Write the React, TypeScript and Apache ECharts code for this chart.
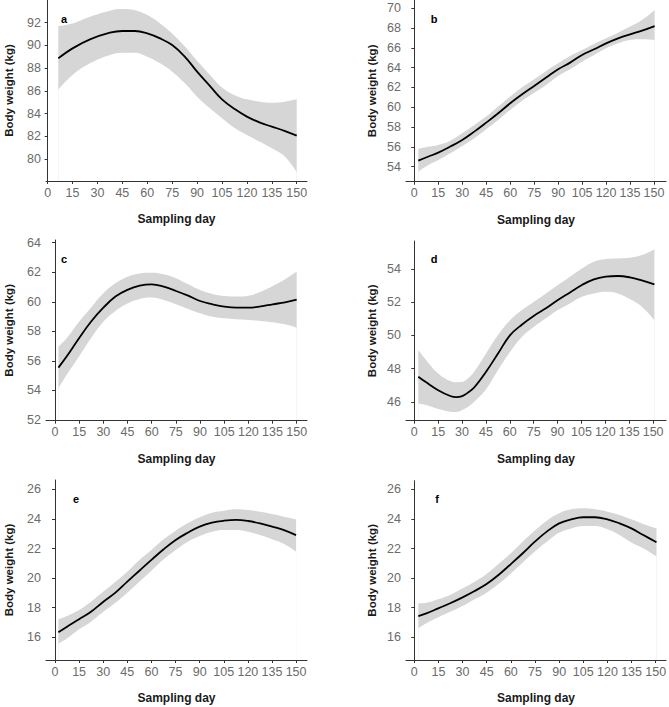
import React, { useEffect, useRef } from "react";
import * as echarts from "echarts";

const xTicks = [0, 15, 30, 45, 60, 75, 90, 105, 120, 135, 150];

// Panel a
const daysA = [6.4, 15, 25.5, 37.5, 45, 52.6, 60, 67.7, 75, 82.7, 90, 97.8, 105, 112.9, 120, 127.9, 135, 143, 150];
const meanA = [88.86, 89.74, 90.53, 91.12, 91.27, 91.27, 91.06, 90.62, 90.03, 89.0, 87.69, 86.42, 85.25, 84.37, 83.73, 83.2, 82.85, 82.46, 82.05];
const upperA = [91.7, 91.94, 92.53, 93.06, 93.2, 93.1, 92.67, 91.94, 91.06, 89.9, 88.65, 87.4, 86.3, 85.6, 85.25, 85.05, 84.96, 85.05, 85.25];
const lowerA = [86.13, 87.4, 88.42, 89.15, 89.36, 89.36, 89.0, 88.42, 87.69, 86.66, 85.49, 84.46, 83.58, 82.7, 82.11, 81.52, 80.94, 80.2, 78.83];
const yTicksA = [80, 82, 84, 86, 88, 90, 92];

// Panel b
const daysB = [2.5, 8.5, 15, 22.5, 30, 37.5, 45, 52.5, 60, 67.5, 75, 82.5, 90, 97.5, 105, 112.5, 120, 127.5, 135, 142.5, 150.4];
const meanB = [54.61, 55.0, 55.42, 56.03, 56.7, 57.54, 58.45, 59.39, 60.4, 61.31, 62.15, 63.0, 63.84, 64.51, 65.29, 65.86, 66.46, 66.97, 67.37, 67.74, 68.2];
const upperB = [55.8, 56.0, 56.2, 56.63, 57.37, 58.2, 59.06, 60.07, 61.08, 62.02, 62.83, 63.67, 64.44, 65.18, 65.79, 66.4, 66.97, 67.54, 68.15, 68.82, 69.83];
const lowerB = [53.5, 54.15, 54.68, 55.35, 56.09, 56.87, 57.78, 58.72, 59.73, 60.67, 61.48, 62.26, 63.17, 63.84, 64.61, 65.29, 65.96, 66.46, 66.8, 66.87, 66.8];
const yTicksB = [54, 56, 58, 60, 62, 64, 66, 68, 70];

// Panel c
const daysC = [2.1, 7.2, 14.9, 22.3, 30, 37.5, 44.9, 52.6, 60, 67.5, 75.1, 82.6, 90, 97.7, 105.1, 112.6, 120.2, 127.7, 135.1, 142.8, 150];
const meanC = [55.54, 56.29, 57.53, 58.65, 59.6, 60.35, 60.8, 61.09, 61.18, 61.02, 60.73, 60.41, 60.05, 59.83, 59.67, 59.6, 59.6, 59.69, 59.83, 59.96, 60.14];
const upperC = [56.96, 57.53, 58.65, 59.6, 60.57, 61.25, 61.7, 61.92, 61.97, 61.86, 61.59, 61.18, 60.8, 60.53, 60.39, 60.35, 60.41, 60.68, 61.07, 61.52, 62.04];
const lowerC = [54.14, 55.04, 56.29, 57.53, 58.65, 59.38, 59.89, 60.19, 60.28, 60.12, 59.83, 59.51, 59.22, 58.99, 58.88, 58.81, 58.77, 58.7, 58.61, 58.47, 58.25];
const yTicksC = [52, 54, 56, 58, 60, 62, 64];

// Panel d
const daysD = [2.5, 7.5, 15, 22.6, 26.3, 30.1, 33.8, 37.6, 45.1, 52.6, 60.2, 67.7, 75.2, 82.7, 90.2, 97.8, 105.3, 112.8, 120.3, 127.9, 135.4, 142.9, 150.8];
const meanD = [47.51, 47.17, 46.7, 46.35, 46.28, 46.34, 46.56, 46.86, 47.81, 48.91, 50.02, 50.66, 51.19, 51.63, 52.13, 52.59, 53.04, 53.38, 53.54, 53.58, 53.5, 53.32, 53.08];
const upperD = [49.12, 48.51, 47.71, 47.25, 47.18, 47.2, 47.42, 47.81, 48.91, 50.02, 50.92, 51.53, 52.03, 52.53, 53.04, 53.54, 54.04, 54.44, 54.6, 54.64, 54.68, 54.84, 55.2];
const lowerD = [45.9, 45.8, 45.56, 45.4, 45.38, 45.5, 45.7, 46.0, 46.76, 47.91, 49.01, 49.92, 50.52, 51.03, 51.53, 51.93, 52.33, 52.53, 52.63, 52.53, 52.19, 51.73, 50.92];
const yTicksD = [46, 48, 50, 52, 54];

// Panel e
const daysE = [2.1, 7.5, 15, 22.4, 30.1, 37.6, 45, 52.5, 60, 67.6, 75.1, 82.6, 90, 97.7, 105.2, 112.7, 120.1, 127.6, 135.1, 142.5, 150];
const meanE = [16.34, 16.72, 17.22, 17.73, 18.41, 19.02, 19.76, 20.5, 21.23, 21.95, 22.58, 23.07, 23.48, 23.75, 23.88, 23.93, 23.86, 23.7, 23.48, 23.25, 22.91];
const upperE = [17.22, 17.44, 17.85, 18.41, 19.09, 19.76, 20.44, 21.23, 21.9, 22.62, 23.21, 23.7, 24.11, 24.42, 24.56, 24.65, 24.6, 24.49, 24.33, 24.15, 23.97];
const lowerE = [15.6, 15.93, 16.54, 17.06, 17.73, 18.34, 19.02, 19.76, 20.5, 21.27, 21.9, 22.46, 22.85, 23.14, 23.25, 23.25, 23.14, 22.91, 22.62, 22.31, 21.79];
const yTicksE = [16, 18, 20, 22, 24, 26];

// Panel f
const daysF = [2.5, 7.5, 14.9, 22.3, 30, 37.5, 44.9, 52.3, 60, 67.4, 74.9, 82.3, 90, 97.5, 104.9, 112.3, 120, 127.5, 134.9, 142.3, 150.5];
const meanF = [17.44, 17.62, 17.96, 18.3, 18.7, 19.13, 19.6, 20.21, 20.95, 21.68, 22.46, 23.14, 23.7, 23.97, 24.11, 24.11, 23.97, 23.7, 23.36, 22.91, 22.42];
const upperF = [18.3, 18.34, 18.57, 18.86, 19.31, 19.76, 20.28, 20.95, 21.68, 22.46, 23.21, 23.88, 24.38, 24.65, 24.72, 24.65, 24.49, 24.27, 23.97, 23.66, 23.36];
const lowerF = [16.61, 16.95, 17.35, 17.73, 18.12, 18.57, 19.02, 19.6, 20.32, 21.05, 21.79, 22.46, 23.07, 23.36, 23.52, 23.52, 23.3, 22.91, 22.4, 22.01, 21.45];
const yTicksF = [16, 18, 20, 22, 24, 26];

const panelLetters = ["a", "b", "c", "d", "e", "f"];
const xTitle = "Sampling day";
const yTitle = "Body weight (kg)";

const FONT = "'Liberation Sans', Arial, sans-serif";
const TICK_COLOR = "#6b6b6b";

const panels = [
  { days: daysA, mean: meanA, upper: upperA, lower: lowerA, yTicks: yTicksA,
    grid: { left: 46, top: 0, width: 261, height: 181 }, xMin: -1, xMax: 156.2, yMin: 78.06, yMax: 94.0, yGap: 31, letter: [64, 19] },
  { days: daysB, mean: meanB, upper: upperB, lower: lowerB, yTicks: yTicksB,
    grid: { left: 406, top: 0, width: 260, height: 181.7 }, xMin: -5.2, xMax: 157.5, yMin: 52.48, yMax: 70.84, yGap: 28, letter: [434, 19] },
  { days: daysC, mean: meanC, upper: upperC, lower: lowerC, yTicks: yTicksC,
    grid: { left: 46, top: 240, width: 261, height: 180.7 }, xMin: -5.6, xMax: 156.4, yMin: 51.95, yMax: 64.18, yGap: 31, letter: [64, 259] },
  { days: daysD, mean: meanD, upper: upperD, lower: lowerD, yTicks: yTicksD,
    grid: { left: 406, top: 241, width: 260, height: 179.7 }, xMin: -5.2, xMax: 158.1, yMin: 44.86, yMax: 55.69, yGap: 28, letter: [434, 259] },
  { days: daysE, mean: meanE, upper: upperE, lower: lowerE, yTicks: yTicksE,
    grid: { left: 46, top: 480, width: 261, height: 180 }, xMin: -5.6, xMax: 156.8, yMin: 14.47, yMax: 26.63, yGap: 31, letter: [76, 499] },
  { days: daysF, mean: meanF, upper: upperF, lower: lowerF, yTicks: yTicksF,
    grid: { left: 406, top: 480.7, width: 260, height: 179.3 }, xMin: -5.15, xMax: 156.4, yMin: 14.47, yMax: 26.58, yGap: 28, letter: [437, 499] },
];

function buildOption() {
  const grids: any[] = [];
  const xAxes: any[] = [];
  const yAxes: any[] = [];
  const series: any[] = [];
  const graphics: any[] = [];
  const axisLine = { show: true, lineStyle: { color: "#333333", width: 1 } };
  panels.forEach((p, i) => {
    grids.push({ ...p.grid, containLabel: false, outerBoundsMode: "none" });
    xAxes.push({
      type: "value", gridIndex: i, min: p.xMin, max: p.xMax, z: 10,
      axisLine, splitLine: { show: false },
      axisTick: { show: true, length: 3, customValues: xTicks, lineStyle: { color: "#333333" } },
      axisLabel: { customValues: xTicks, color: TICK_COLOR, fontSize: 12.5, fontFamily: FONT, margin: 5, hideOverlap: false },
      name: xTitle, nameLocation: "middle", nameGap: 32,
      nameTextStyle: { fontWeight: "bold", fontSize: 12, color: "#1a1a1a", fontFamily: FONT },
    });
    yAxes.push({
      type: "value", gridIndex: i, min: p.yMin, max: p.yMax, z: 10,
      axisLine, splitLine: { show: false },
      axisTick: { show: true, length: 3, customValues: p.yTicks, lineStyle: { color: "#333333" } },
      axisLabel: { customValues: p.yTicks, color: TICK_COLOR, fontSize: 12.5, fontFamily: FONT, margin: 5, hideOverlap: false },
      name: yTitle, nameLocation: "middle", nameGap: p.yGap,
      nameTextStyle: { fontWeight: "bold", fontSize: 11.5, color: "#1a1a1a", fontFamily: FONT },
    });
    // Confidence band: gray area under the upper bound, masked by a white area under the lower bound
    series.push({
      type: "line", xAxisIndex: i, yAxisIndex: i, smooth: 0.4, symbol: "none", silent: true,
      data: p.days.map((d, j) => [d, p.upper[j]]),
      lineStyle: { opacity: 0, width: 0 },
      areaStyle: { color: "#d6d6d6", opacity: 1, origin: "start" }, z: 1,
    });
    series.push({
      type: "line", xAxisIndex: i, yAxisIndex: i, smooth: 0.4, symbol: "none", silent: true,
      data: p.days.map((d, j) => [d, p.lower[j]]),
      lineStyle: { opacity: 0, width: 0 },
      areaStyle: { color: "#ffffff", opacity: 1, origin: "start" }, z: 2,
    });
    series.push({
      type: "line", xAxisIndex: i, yAxisIndex: i, smooth: 0.4, symbol: "none", silent: true,
      data: p.days.map((d, j) => [d, p.mean[j]]),
      lineStyle: { color: "#000000", width: 1.8 }, z: 3,
    });
    graphics.push({
      type: "text", x: p.letter[0], y: p.letter[1], z: 10,
      style: {
        text: panelLetters[i], fill: "#000000", font: `bold 11px ${FONT}`,
        textAlign: "center", textVerticalAlign: "middle", align: "center", verticalAlign: "middle",
      },
    });
  });
  return {
    animation: false,
    backgroundColor: "#ffffff",
    grid: grids,
    xAxis: xAxes,
    yAxis: yAxes,
    series,
    graphic: graphics,
  };
}

export default function App() {
  const ref = useRef<HTMLDivElement>(null);
  useEffect(() => {
    if (!ref.current) return;
    const chart = echarts.init(ref.current, null, { renderer: "svg" });
    chart.setOption(buildOption() as any);
    return () => chart.dispose();
  }, []);
  return (
    <div
      ref={ref}
      style={{ position: "absolute", left: 0, top: 0, width: 669, height: 707, background: "#ffffff" }}
    />
  );
}
